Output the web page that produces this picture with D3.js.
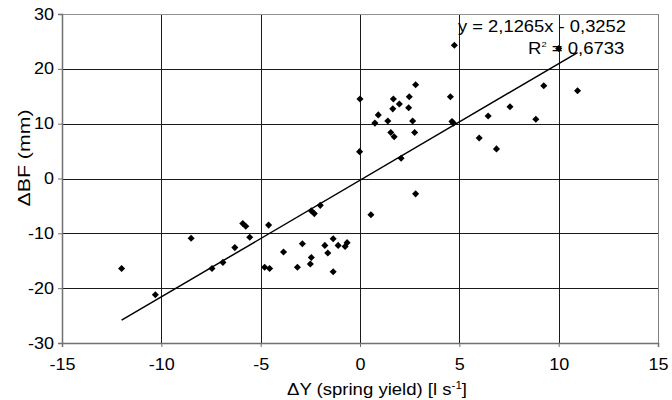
<!DOCTYPE html>
<html>
  <head>
    <meta charset="utf-8">
    <script src="https://d3js.org/d3.v7.min.js"></script>
    <style>
      body {
        margin: 0px;
        background: #ffffff;
      }
      text {
        font-family: "Liberation Sans", Arial, sans-serif;
        fill: #000000;
      }
    </style>
  </head>
  <body>
    <svg width="672" height="400"></svg>
    <script>
      // spring yield change (x) and BF change (y)
      var dYield = [-12.0, -10.3, -8.5, -7.45, -6.9, -6.3, -5.9, -5.75, -5.55, -4.8,
                    -4.55, -4.6, -3.85, -3.15, -2.9, -2.45, -2.5, -2.45, -2.3, -2.0,
                    -1.77, -1.62, -1.35, -1.35, -1.1, -0.75, -0.65, 0.0, -0.02, 0.55,
                    0.75, 0.92, 1.4, 1.55, 1.72, 1.65, 1.68, 1.98, 2.07, 2.45,
                    2.48, 2.65, 2.75, 2.8, 2.8, 4.55, 4.63, 4.7, 4.75, 6.0,
                    6.45, 6.87, 7.55, 8.85, 9.25, 10.0, 10.95];
      var dBF = [-16.4, -21.2, -10.9, -16.4, -15.3, -12.6, -8.2, -8.7, -10.7, -16.2,
                 -16.4, -8.5, -13.4, -16.2, -11.9, -14.4, -15.6, -5.9, -6.4, -4.9,
                 -12.2, -13.6, -11.0, -17.0, -12.2, -12.4, -11.7, 14.5, 4.9, -6.6,
                 10.1, 11.6, 10.5, 8.4, 7.6, 12.7, 14.5, 13.6, 3.7, 12.9,
                 14.9, 10.5, 8.4, 17.1, -2.8, 14.9, 10.4, 10.1, 24.3, 7.4,
                 11.4, 5.4, 13.1, 10.8, 16.9, 23.7, 16.0];

      var xTicks = [-15, -10, -5, 0, 5, 10, 15];
      var yTicks = [-30, -20, -10, 0, 10, 20, 30];

      // trendline as printed on the chart
      var slope = 2.1265;
      var intercept = -0.3252;
      var eqLabel = "y = 2,1265x - 0,3252";
      var r2Label = "0,6733";

      var margin = {top: 14, right: 14, bottom: 57, left: 62};
      var width = 672 - margin.left - margin.right;
      var height = 400 - margin.top - margin.bottom;

      var svg = d3.select("svg");
      var g = svg.append("g")
        .attr("transform", "translate(" + margin.left + "," + margin.top + ")");

      var xScale = d3.scaleLinear().domain([-15, 15]).range([0, width]);
      var yScale = d3.scaleLinear().domain([-30, 30]).range([height, 0]);

      // grid
      g.selectAll(".vgrid")
        .data(xTicks.slice(1))
        .enter()
        .append("line")
          .attr("x1", function(d){ return Math.round(xScale(d)) + 0.5; })
          .attr("x2", function(d){ return Math.round(xScale(d)) + 0.5; })
          .attr("y1", 0)
          .attr("y2", height)
          .style("stroke", function(d){ return d == 15 ? "#808080" : "#1a1a1a"; })
          .style("stroke-width", 1);

      g.selectAll(".hgrid")
        .data(yTicks.slice(1))
        .enter()
        .append("line")
          .attr("x1", 0)
          .attr("x2", width)
          .attr("y1", function(d){ return Math.round(yScale(d)) + 0.5; })
          .attr("y2", function(d){ return Math.round(yScale(d)) + 0.5; })
          .style("stroke", function(d){ return d == 30 ? "#909090" : "#1a1a1a"; })
          .style("stroke-width", 1);

      var fmt = function(d){ return String(d); };

      var xAxis = d3.axisBottom(xScale)
        .tickValues(xTicks)
        .tickSize(4)
        .tickPadding(12)
        .tickFormat(fmt);

      var yAxis = d3.axisLeft(yScale)
        .tickValues(yTicks)
        .tickSize(4)
        .tickPadding(4)
        .tickFormat(fmt);

      var gx = g.append("g")
        .attr("transform", "translate(0," + height + ")")
        .call(xAxis);
      var gy = g.append("g")
        .call(yAxis);

      [gx, gy].forEach(function(a) {
        a.select(".domain").style("stroke", "#707070").style("stroke-width", 1.5);
        a.selectAll(".tick line").style("stroke", "#707070");
        a.selectAll(".tick text")
          .style("font-family", "'Liberation Sans', Arial, sans-serif")
          .style("font-size", "16px")
          .style("fill", "#000")
          .attr("textLength", function(d){
            var s = String(d);
            return s.replace("-", "").length * 10 + (d < 0 ? 6 : 0);
          })
          .attr("lengthAdjust", "spacingAndGlyphs");
      });

      // trendline
      var xMin = d3.min(dYield), xMax = d3.max(dYield);
      g.append("line")
        .attr("x1", xScale(xMin))
        .attr("y1", yScale(slope * xMin + intercept))
        .attr("x2", xScale(xMax))
        .attr("y2", yScale(slope * xMax + intercept))
        .style("stroke", "#000")
        .style("stroke-width", 1.5);

      // points
      var diamond = d3.symbol().type(d3.symbolSquare).size(25);
      g.selectAll(".pt")
        .data(d3.range(dYield.length))
        .enter()
        .append("path")
          .attr("d", diamond)
          .attr("transform", function(i){
            return "translate(" + xScale(dYield[i]) + "," + yScale(dBF[i]) + ") rotate(45)";
          })
          .style("fill", "#000");

      // equation labels
      svg.append("text")
        .attr("x", 626)
        .attr("y", 32)
        .attr("text-anchor", "end")
        .attr("textLength", 168)
        .attr("lengthAdjust", "spacingAndGlyphs")
        .style("font-size", "16px")
        .text(eqLabel);

      var r2 = svg.append("text")
        .attr("transform", "translate(528,54) scale(1.16,1)")
        .style("font-size", "16px");
      r2.append("tspan").text("R");
      r2.append("tspan").attr("dy", -7).style("font-size", "8px").text("2");
      r2.append("tspan").attr("dy", 7).text(" = " + r2Label);

      // axis titles
      var xt = svg.append("text")
        .attr("transform", "translate(377,395) scale(1.16,1)")
        .attr("text-anchor", "middle")
        .style("font-size", "16px");
      xt.append("tspan").text("\u0394Y (spring yield) [l s");
      xt.append("tspan").attr("dy", -6).style("font-size", "10px").text("-1");
      xt.append("tspan").attr("dy", 6).text("]");

      svg.append("text")
        .attr("transform", "translate(30,158) rotate(-90)")
        .attr("text-anchor", "middle")
        .attr("textLength", 97)
        .attr("lengthAdjust", "spacingAndGlyphs")
        .style("font-size", "16px")
        .text("\u0394BF (mm)");
    </script>
  </body>
</html>
